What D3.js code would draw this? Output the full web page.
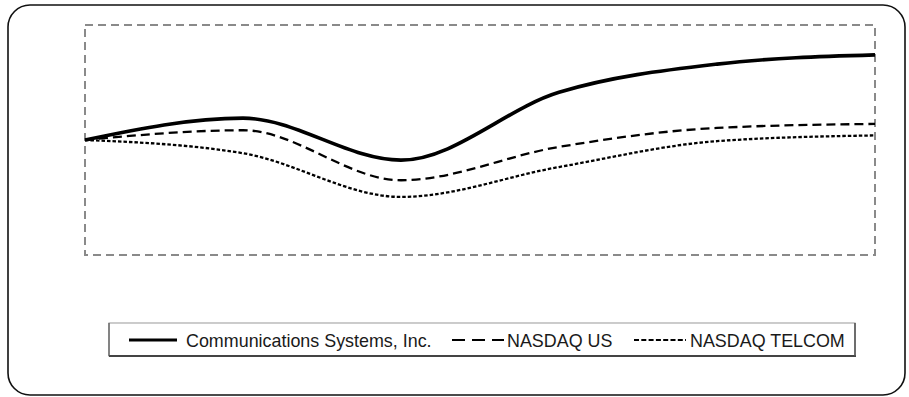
<!DOCTYPE html>
<html><head><meta charset="utf-8">
<script src="https://cdn.jsdelivr.net/npm/d3@7"></script>
<style>body{margin:0;background:#fff;}svg{display:block;}</style>
</head><body>
<script>
const periods = [0, 1, 2, 3, 4, 5];
const seriesNames = ["Communications Systems, Inc.", "NASDAQ US", "NASDAQ TELCOM"];
const csiValues = [100, 119, 82.5, 141.5, 166, 174];
const nasdaqUsValues = [100, 108.5, 65, 94, 110.5, 114];
const nasdaqTelcomValues = [100, 88.5, 50.5, 76.5, 99, 104];

const W = 909, H = 397;
const svg = d3.select("body").append("svg").attr("width", W).attr("height", H);

// outer rounded frame
svg.append("rect").attr("x", 8).attr("y", 5).attr("width", 897).attr("height", 390)
  .attr("rx", 22).attr("ry", 22).attr("fill", "#fff").attr("stroke", "#111").attr("stroke-width", 1.6);

const plot = {l: 85, t: 25, r: 875, b: 255};
const x = d3.scaleLinear().domain(d3.extent(periods)).range([plot.l, plot.r]);
const y = d3.scaleLinear().domain([0, 200]).range([plot.b, plot.t]);

svg.append("rect").attr("x", plot.l).attr("y", plot.t)
  .attr("width", plot.r - plot.l).attr("height", plot.b - plot.t)
  .attr("fill", "none").attr("stroke", "#8a8a8a").attr("stroke-width", 2)
  .attr("stroke-dasharray", "8,5");

const styles = [
  {w: 3.6, dash: null},
  {w: 2.3, dash: "9,5"},
  {w: 2.3, dash: "3.5,2"}
];
const data = [csiValues, nasdaqUsValues, nasdaqTelcomValues];
const line = d3.line().x((d, i) => x(periods[i])).y(d => y(d)).curve(d3.curveMonotoneX);

data.forEach((vals, k) => {
  svg.append("path").datum(vals).attr("d", line)
    .attr("fill", "none").attr("stroke", "#000")
    .attr("stroke-width", styles[k].w)
    .attr("stroke-dasharray", styles[k].dash);
});

// legend
const lg = {x: 109, y: 323, w: 746, h: 33};
svg.append("rect").attr("x", lg.x).attr("y", lg.y).attr("width", lg.w).attr("height", lg.h)
  .attr("fill", "#fff").attr("stroke", "#aaa").attr("stroke-width", 1.2);
svg.append("line").attr("x1", lg.x).attr("x2", lg.x + lg.w + 1).attr("y1", lg.y + lg.h).attr("y2", lg.y + lg.h)
  .attr("stroke", "#444").attr("stroke-width", 1.8);
svg.append("line").attr("x1", lg.x + lg.w).attr("x2", lg.x + lg.w).attr("y1", lg.y).attr("y2", lg.y + lg.h)
  .attr("stroke", "#555").attr("stroke-width", 1.6);
svg.append("line").attr("x1", lg.x).attr("x2", lg.x).attr("y1", lg.y).attr("y2", lg.y + lg.h)
  .attr("stroke", "#555").attr("stroke-width", 1.2);

const legendItems = [
  {x1: 129, x2: 177, tx: 186},
  {x1: 452, x2: 504, tx: 507},
  {x1: 634, x2: 686, tx: 690}
];
const legendStyles = [
  {w: 3, dash: null},
  {w: 2, dash: "13,7"},
  {w: 2, dash: "5,2.3"}
];
const ly = 340;
legendItems.forEach((it, k) => {
  svg.append("line").attr("x1", it.x1).attr("x2", it.x2).attr("y1", ly).attr("y2", ly)
    .attr("stroke", "#000").attr("stroke-width", legendStyles[k].w)
    .attr("stroke-dasharray", legendStyles[k].dash);
  svg.append("text").attr("x", it.tx).attr("y", ly + 6.5)
    .attr("font-family", "Liberation Sans, Arial, sans-serif").attr("font-size", 17.9)
    .attr("fill", "#1a1a1a").text(seriesNames[k]);
});
</script>
</body></html>
